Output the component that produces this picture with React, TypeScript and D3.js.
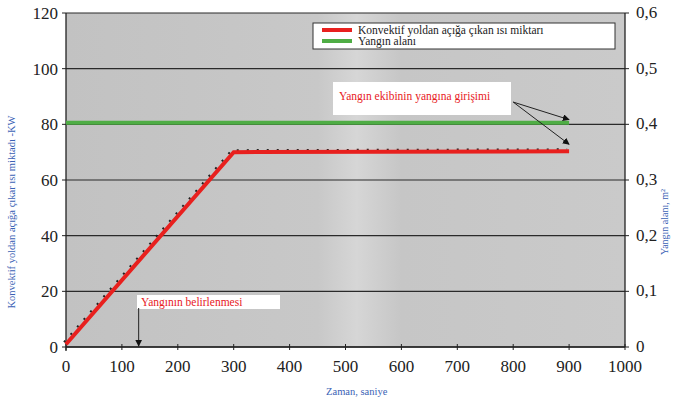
import React from "react";
import * as d3 from "d3";

// zaman (s) ve konvektif ısı (kW)
const times = [0, 300, 900];
const heatKW = [1, 70, 70.3];
// yangın alanı (m2)
const areaTimes = [0, 900];
const areaM2 = [0.403, 0.403];

const xTicks = [0, 100, 200, 300, 400, 500, 600, 700, 800, 900, 1000];
const leftTicks = [0, 20, 40, 60, 80, 100, 120];
const rightTicks = [0, 0.1, 0.2, 0.3, 0.4, 0.5, 0.6];
const rightLabels = ["0", "0,1", "0,2", "0,3", "0,4", "0,5", "0,6"];

const legendNames = ["Konvektif yoldan açığa çıkan ısı miktarı", "Yangın alanı"];
const legendColors = ["#e8201e", "#4fad45"];

const W = 674, H = 401;
const serif = { fontFamily: "'Liberation Serif', 'Times New Roman', 'DejaVu Serif', serif" };

export default function App() {
  const x = d3.scaleLinear().domain([0, 1000]).range([66, 625]);
  const y = d3.scaleLinear().domain([0, 120]).range([347, 13]);
  const y2 = d3.scaleLinear().domain([0, 0.6]).range([347, 13]);

  const heatLine = d3.line<number>()
    .x((_, i) => x(times[i]))
    .y(d => y(d));
  const areaLine = d3.line<number>()
    .x((_, i) => x(areaTimes[i]))
    .y(d => y2(d));

  // annotation anchors in data units
  const entryFrom = [800, 88];
  const detectAt = 130;

  return (
    <svg width={W} height={H} style={{ position: "absolute", left: 0, top: 0, background: "#fff" }}>
      <defs>
        <marker id="tri" viewBox="0 0 10 10" refX="9" refY="5" markerWidth="7" markerHeight="7" orient="auto">
          <path d="M0,0 L10,5 L0,10 z" fill="#111" />
        </marker>
        <linearGradient id="bg" x1="0" x2="1" y1="0" y2="0">
          <stop offset="0" stopColor="#c2c2c2" />
          <stop offset="0.45" stopColor="#c8c8c8" />
          <stop offset="0.52" stopColor="#d6d6d6" />
          <stop offset="0.6" stopColor="#c6c6c6" />
          <stop offset="1" stopColor="#cacaca" />
        </linearGradient>
      </defs>

      {/* plot area */}
      <rect x={x(0)} y={y(120)} width={x(1000) - x(0)} height={y(0) - y(120)} fill="url(#bg)" />

      {/* horizontal grid */}
      {leftTicks.map(t => (
        <line key={t} x1={x(0)} x2={x(1000)} y1={y(t)} y2={y(t)} stroke="#2a2a2a" strokeWidth={1.2} />
      ))}

      {/* frame */}
      <line x1={x(0)} x2={x(0)} y1={y(0) + 4} y2={y(120)} stroke="#222" strokeWidth={1.3} />
      <line x1={x(1000)} x2={x(1000)} y1={y(0)} y2={y(120)} stroke="#222" strokeWidth={1.3} />
      <line x1={x(0)} x2={x(1000)} y1={y(0)} y2={y(0)} stroke="#222" strokeWidth={1.3} />

      {/* left axis */}
      {leftTicks.map(t => (
        <g key={t}>
          <line x1={x(0) - 4} x2={x(0)} y1={y(t)} y2={y(t)} stroke="#222" />
          <text x={x(0) - 8} y={y(t)} dy="0.35em" textAnchor="end" style={serif} fontSize={17} fill="#222">{t}</text>
        </g>
      ))}
      {/* right axis */}
      {rightTicks.map((t, i) => (
        <g key={t}>
          <line x1={x(1000)} x2={x(1000) + 4} y1={y2(t)} y2={y2(t)} stroke="#222" />
          <text x={x(1000) + 11} y={y2(t)} dy="0.3em" style={serif} fontSize={17} fill="#222">{rightLabels[i]}</text>
        </g>
      ))}
      {/* bottom axis */}
      {xTicks.map(t => (
        <g key={t}>
          <line x1={x(t)} x2={x(t)} y1={y(0) - 3} y2={y(0) + 3} stroke="#222" />
          <text x={x(t)} y={y(0) + 25} textAnchor="middle" style={serif} fontSize={17} fill="#222">{t}</text>
        </g>
      ))}

      {/* axis titles */}
      <text transform={`translate(15,${(y(0) + y(120)) / 2 + 32}) rotate(-90)`} textAnchor="middle"
        style={serif} fontSize={10.5} fill="#3a62b5">Konvektif yoldan açığa çıkar ısı miktadı -KW</text>
      <text transform={`translate(668,${(y(0) + y(120)) / 2 + 42}) rotate(-90)`} textAnchor="middle"
        style={serif} fontSize={10} fill="#3a62b5">Yangın alanı, m²</text>
      <text x={x(520)} y={395} textAnchor="middle" style={serif} fontSize={10.5} fill="#3a62b5">Zaman, saniye</text>

      {/* series */}
      <path d={areaLine(areaM2) ?? ""} fill="none" stroke={legendColors[1]} strokeWidth={4} />
      <path d={heatLine(heatKW) ?? ""} fill="none" stroke="#222" strokeWidth={2} strokeDasharray="2,8" transform="translate(-2,-2)" />
      <path d={heatLine(heatKW) ?? ""} fill="none" stroke={legendColors[0]} strokeWidth={4} />

      {/* legend */}
      <rect x={313} y={23} width={302} height={26} fill="#fff" stroke="#333" strokeWidth={1} />
      {legendNames.map((n, i) => (
        <g key={n}>
          <line x1={322} x2={352} y1={30 + i * 11} y2={30 + i * 11} stroke={legendColors[i]} strokeWidth={4} />
          <text x={358} y={30 + i * 11} dy="0.35em" style={serif} fontSize={11.5} fill="#222">{n}</text>
        </g>
      ))}

      {/* annotation: yangın ekibi */}
      <rect x={333} y={82} width={178} height={33} fill="#fff" />
      <text x={339} y={96} dy="0.35em" style={serif} fontSize={11.5} fill="#e8201e">Yangın ekibinin yangına girişimi</text>
      <line x1={x(entryFrom[0])} y1={y(entryFrom[1])} x2={x(900)} y2={y2(areaM2[1]) - 3} stroke="#222" strokeWidth={1} markerEnd="url(#tri)" />
      <line x1={x(entryFrom[0])} y1={y(entryFrom[1])} x2={x(900)} y2={y(heatKW[2]) - 7} stroke="#222" strokeWidth={1} markerEnd="url(#tri)" />

      {/* annotation: yangının belirlenmesi */}
      <rect x={137} y={295} width={143} height={14} fill="#fff" />
      <text x={141} y={302} dy="0.35em" style={serif} fontSize={11.5} fill="#e8201e">Yangının belirlenmesi</text>
      <line x1={x(detectAt)} x2={x(detectAt)} y1={308} y2={y(0) - 1} stroke="#222" strokeWidth={1} markerEnd="url(#tri)" />
    </svg>
  );
}
